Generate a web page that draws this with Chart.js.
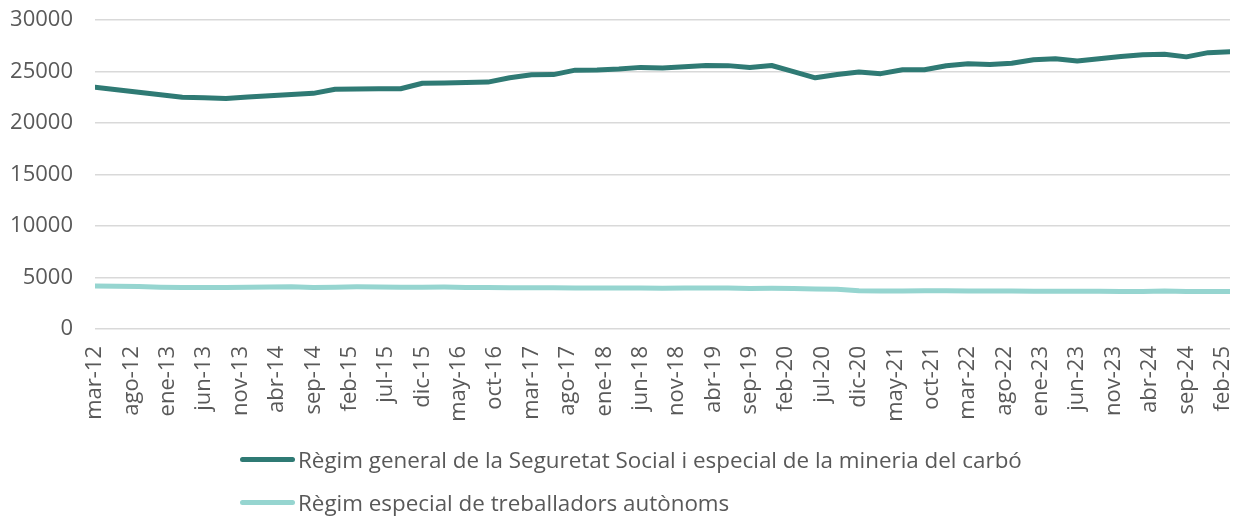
<!DOCTYPE html>
<html>
<head>
<meta charset="utf-8">
<script src="https://cdn.jsdelivr.net/npm/chart.js@4"></script>
<style>
  html, body { margin: 0; padding: 0; background: #fff; }
  #wrap { position: relative; width: 1234px; height: 518px; }
  #legend { position: absolute; left: 240px; top: 438px; font-family: "Open Sans", sans-serif; font-size: 22.4px; color: #595959; }
  #legend .item { display: flex; align-items: center; height: 43px; white-space: nowrap; }
  #legend .swatch { width: 55px; height: 5px; border-radius: 3px; margin-right: 3px; }
</style>
</head>
<body>
<div id="wrap">
  <canvas id="chart" width="1234" height="518"></canvas>
  <div id="legend"></div>
</div>
<script>
// quarterly points (month-yy, Spanish abbreviations)
var quarters = [
  "mar-12","jun-12","sep-12","dic-12","mar-13","jun-13","sep-13","dic-13",
  "mar-14","jun-14","sep-14","dic-14","mar-15","jun-15","sep-15","dic-15",
  "mar-16","jun-16","sep-16","dic-16","mar-17","jun-17","sep-17","dic-17",
  "mar-18","jun-18","sep-18","dic-18","mar-19","jun-19","sep-19","dic-19",
  "mar-20","jun-20","sep-20","dic-20","mar-21","jun-21","sep-21","dic-21",
  "mar-22","jun-22","sep-22","dic-22","mar-23","jun-23","sep-23","dic-23",
  "mar-24","jun-24","sep-24","dic-24","mar-25"
];

var regimGeneral = [
  23470, 23230, 22980, 22740, 22490, 22440, 22390, 22530,
  22650, 22760, 22880, 23270, 23300, 23320, 23330, 23860,
  23890, 23930, 23970, 24400, 24680, 24700, 25130, 25150,
  25250, 25400, 25350, 25450, 25590, 25570, 25380, 25580,
  24990, 24390, 24700, 24950, 24790, 25170, 25170, 25560,
  25750, 25680, 25810, 26140, 26240, 26010, 26230, 26450,
  26630, 26680, 26420, 26830, 26920
];

var regimAutonoms = [
  4180, 4160, 4120, 4060, 4040, 4030, 4030, 4050,
  4080, 4090, 4030, 4060, 4090, 4080, 4050, 4060,
  4070, 4040, 4020, 4010, 4000, 4010, 3990, 3980,
  3990, 3990, 3960, 3970, 3970, 3970, 3940, 3950,
  3920, 3880, 3860, 3720, 3700, 3700, 3710, 3710,
  3690, 3680, 3680, 3660, 3660, 3660, 3660, 3650,
  3650, 3680, 3630, 3640, 3650
];

// axis labels, every 5 months starting at mar-12
var tickLabels = [
  "mar-12","ago-12","ene-13","jun-13","nov-13","abr-14","sep-14","feb-15",
  "jul-15","dic-15","may-16","oct-16","mar-17","ago-17","ene-18","jun-18",
  "nov-18","abr-19","sep-19","feb-20","jul-20","dic-20","may-21","oct-21",
  "mar-22","ago-22","ene-23","jun-23","nov-23","abr-24","sep-24","feb-25"
];

var yTicks = [0, 5000, 10000, 15000, 20000, 25000, 30000];

var seriesNames = [
  "Règim general de la Seguretat Social i especial de la mineria del carbó",
  "Règim especial de treballadors autònoms"
];
var seriesColors = ["#2f7a74", "#96d5d0"];

var monthNames = ["ene","feb","mar","abr","may","jun","jul","ago","sep","oct","nov","dic"];
function monthIndex(lbl) {
  var p = lbl.split("-");
  return (2000 + parseInt(p[1], 10) - 2012) * 12 + monthNames.indexOf(p[0]) - 2;
}
function points(values) {
  return values.map(function (v, i) { return { x: monthIndex(quarters[i]), y: v }; });
}

// drop the automatic label padding so the plot box sits where the original has it
function fixBox(size) {
  return function (scale) {
    scale.paddingTop = scale.paddingBottom = scale.paddingLeft = scale.paddingRight = 0;
    if (scale.isHorizontal()) scale.height = size; else scale.width = size;
  };
}

var TEXT = "#595959";
var FONT = '"Open Sans", sans-serif';

new Chart(document.getElementById("chart").getContext("2d"), {
  type: "line",
  data: {
    datasets: [regimGeneral, regimAutonoms].map(function (vals, i) {
      return {
        label: seriesNames[i],
        data: points(vals),
        borderColor: seriesColors[i],
        backgroundColor: seriesColors[i],
        borderWidth: 5,
        borderCapStyle: "round",
        borderJoinStyle: "round",
        pointRadius: 0,
        tension: 0,
        fill: false
      };
    })
  },
  options: {
    responsive: false,
    animation: false,
    layout: { padding: { top: 20, right: 4, left: 10, bottom: 89 } },
    plugins: { legend: { display: false }, tooltip: { enabled: false } },
    scales: {
      x: {
        type: "linear",
        min: 0,
        max: monthIndex(quarters[quarters.length - 1]),
        afterBuildTicks: function (scale) {
          scale.ticks = tickLabels.map(function (_, i) { return { value: i * 5 }; });
        },
        afterFit: fixBox(100),
        ticks: {
          autoSkip: false,
          minRotation: 90,
          maxRotation: 90,
          padding: 9,
          color: TEXT,
          font: { family: FONT, size: 22 },
          callback: function (v) { return tickLabels[Math.round(v / 5)]; }
        },
        grid: { display: false },
        border: { display: false }
      },
      y: {
        min: 0,
        max: 30000,
        afterBuildTicks: function (scale) {
          scale.ticks = yTicks.map(function (v) { return { value: v }; });
        },
        afterFit: fixBox(85),
        ticks: {
          padding: 22,
          color: TEXT,
          font: { family: FONT, size: 22 },
          callback: function (v) { return String(v); }
        },
        grid: { color: "#d9d9d9", lineWidth: 1.5, drawTicks: false },
        border: { display: false }
      }
    }
  }
});

// legend, stacked and left aligned like the original
var legendEl = document.getElementById("legend");
seriesNames.forEach(function (name, i) {
  var item = document.createElement("div");
  item.className = "item";
  item.innerHTML = '<span class="swatch" style="background:' + seriesColors[i] + '"></span><span>' + name + '</span>';
  legendEl.appendChild(item);
});
</script>
</body>
</html>
